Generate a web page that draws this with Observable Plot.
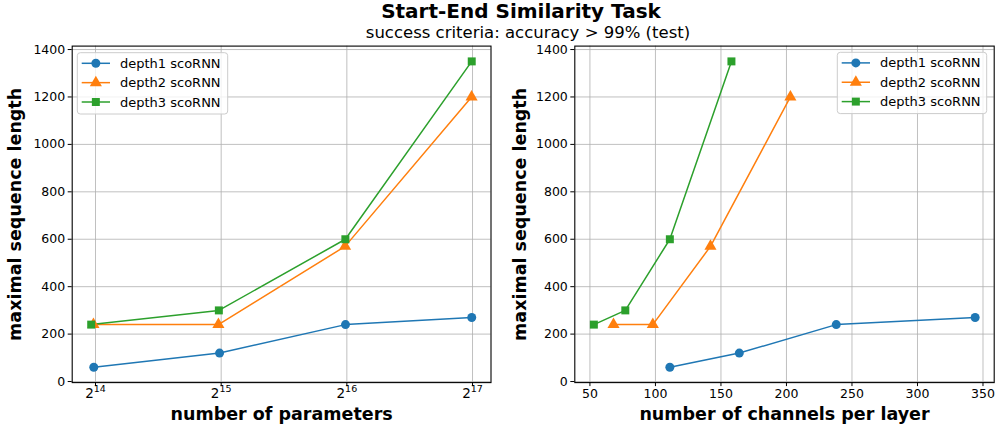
<!DOCTYPE html>
<html>
<head>
<meta charset="utf-8">
<script src="https://cdn.jsdelivr.net/npm/d3@7"></script>
<script src="https://cdn.jsdelivr.net/npm/@observablehq/plot@0.6"></script>
<style>
  html, body { margin: 0; padding: 0; background: #fff; }
  #wrap { position: relative; width: 995px; height: 427px; font-family: "DejaVu Sans", sans-serif; overflow: hidden; }
  #wrap svg { position: absolute; top: 0; z-index: 1; }
  .title { position: absolute; white-space: nowrap; transform: translate(-50%, -50%); color: #000; z-index: 2; }
</style>
</head>
<body>
<div id="wrap">
  <div class="title" id="t1" style="left:521px; top:11px; font-size:20px; font-weight:bold;"></div>
  <div class="title" id="t2" style="left:528px; top:32px; font-size:16.5px;"></div>
</div>
<script>
// ---- data ----
const titleText = "Start-End Similarity Task";
const subtitleText = "success criteria: accuracy > 99% (test)";
const seriesNames = ["depth1 scoRNN", "depth2 scoRNN", "depth3 scoRNN"];
const seriesColors = ["#1f77b4", "#ff7f0e", "#2ca02c"];
const seriesSymbols = ["circle", "triangle", "square"];

const params1 = [16230, 32480, 65050, 130500];
const params2 = [16200, 32270, 64900, 130400];
const params3 = [16000, 32350, 65000, 130500];

const channels1 = [111, 164, 238, 344];
const channels2 = [68, 98, 142, 203];
const channels3 = [53, 77, 111, 158];

const seqLen1 = [60, 120, 240, 270];
const seqLen2 = [240, 240, 570, 1200];
const seqLen3 = [240, 300, 600, 1350];

const paramTicks = [16384, 32768, 65536, 131072];
const channelTicks = [50, 100, 150, 200, 250, 300, 350];
const seqTicks = [0, 200, 400, 600, 800, 1000, 1200, 1400];

const xLabelLeft = "number of parameters";
const xLabelRight = "number of channels per layer";
const yLabel = "maximal sequence length";

// ---- build tables ----
const rows = (xs, ys, s) => xs.map((x, i) => ({x, y: ys[i], s}));
const leftRows = [
  ...rows(params1, seqLen1, seriesNames[0]),
  ...rows(params2, seqLen2, seriesNames[1]),
  ...rows(params3, seqLen3, seriesNames[2])
];
const rightRows = [
  ...rows(channels1, seqLen1, seriesNames[0]),
  ...rows(channels2, seqLen2, seriesNames[1]),
  ...rows(channels3, seqLen3, seriesNames[2])
];

document.getElementById("t1").textContent = titleText;
document.getElementById("t2").textContent = subtitleText;

const pow2Format = d => "2^" + Math.round(Math.log2(d));

const H = 427;
const yDomain = [-4.5, 1414.5];
const gridStyle = {stroke: "#b0b0b0", strokeOpacity: 1, strokeWidth: 0.8};
const markR = 4.5;
const tickFont = 12.5;
const labelFont = 17.5;

function makeChart(data, xOpts, xTicks, xFormat, width, ml, mr, xLabel, yLabelDx) {
  return Plot.plot({
    width, height: H,
    marginLeft: ml, marginRight: mr, marginTop: 45.6, marginBottom: H - 382.1,
    style: {fontFamily: "DejaVu Sans", fontSize: tickFont + "px", background: "transparent", color: "#000"},
    x: xOpts,
    y: {domain: yDomain},
    color: {domain: seriesNames, range: seriesColors},
    symbol: {domain: seriesNames, range: seriesSymbols},
    marks: [
      Plot.gridX(xTicks, gridStyle),
      Plot.gridY(seqTicks, gridStyle),
      Plot.line(data, {x: "x", y: "y", z: "s", stroke: "s", strokeWidth: 1.5}),
      Plot.dot(data, {x: "x", y: "y", fill: "s", symbol: "s", r: markR, stroke: null}),
      Plot.frame({stroke: "#000", strokeWidth: 1.1}),
      Plot.axisX(xTicks, {tickFormat: xFormat, tickSize: 4, tickPadding: 3, fontSize: tickFont, label: null}),
      Plot.axisY(seqTicks, {tickFormat: d => String(d), tickSize: 4, tickPadding: 3, fontSize: tickFont, label: null}),
      Plot.text([xLabel], {frameAnchor: "bottom", dy: 31.5, lineAnchor: "middle", fontSize: labelFont, fontWeight: "bold", fill: "#000"}),
      Plot.text([yLabel], {frameAnchor: "left", dx: yLabelDx, rotate: -90, textAnchor: "middle", lineAnchor: "middle", fontSize: labelFont, fontWeight: "bold", fill: "#000"})
    ]
  });
}

function addLegend(svg, bx, by, bw, bh) {
  const g = d3.select(svg).append("g");
  g.append("rect").attr("x", bx).attr("y", by).attr("width", bw).attr("height", bh)
    .attr("rx", 3).attr("fill", "#fff").attr("fill-opacity", 0.8).attr("stroke", "#cccccc").attr("stroke-width", 1);
  const syms = {circle: d3.symbolCircle, triangle: d3.symbolTriangle, square: d3.symbolSquare};
  seriesNames.forEach((name, i) => {
    const cy = by + 10.6 + i * 19.35;
    const x0 = bx + 4.4, x1 = bx + 32.7, xm = (x0 + x1) / 2;
    g.append("line").attr("x1", x0).attr("x2", x1).attr("y1", cy).attr("y2", cy)
      .attr("stroke", seriesColors[i]).attr("stroke-width", 1.5);
    g.append("path").attr("d", d3.symbol(syms[seriesSymbols[i]], markR * markR * Math.PI)())
      .attr("transform", `translate(${xm},${cy})`).attr("fill", seriesColors[i]);
    g.append("text").attr("x", bx + 42.7).attr("y", cy).attr("dy", "0.35em")
      .attr("text-anchor", "start").attr("font-size", 13).attr("fill", "#000").text(name);
  });
}

// render "2^14" style tick labels as base + superscript tspans
function superscriptTicks(svg) {
  d3.select(svg).selectAll('g[aria-label="x-axis tick label"] text').each(function() {
    const t = d3.select(this);
    const s = t.text();
    if (!s.includes("^")) return;
    const [base, exp] = s.split("^");
    t.text(null);
    t.append("tspan").attr("font-size", 13.5).text(base);
    t.append("tspan").attr("font-size", 9.5).attr("dy", "-0.65em").text(exp);
  });
}

const left = makeChart(leftRows,
  {type: "log", base: 2, domain: [Math.pow(2, 13.8146), Math.pow(2, 17.147)]},
  paramTicks, pow2Format, 500, 71.7, 9.5, xLabelLeft, -56.7);
left.style.left = "0px";
superscriptTicks(left);
addLegend(left, 77.3, 52.7, 150.4, 61.3);

const right = makeChart(rightRows,
  {type: "linear", domain: [38.45, 358.55]},
  channelTicks, d => String(d), 495, 74.3, 1.3, xLabelRight, -54.3);
right.style.left = "500px";
addLegend(right, 337.3, 52.3, 149.4, 61.3);

const wrap = document.getElementById("wrap");
wrap.appendChild(left);
wrap.appendChild(right);
</script>
</body>
</html>
